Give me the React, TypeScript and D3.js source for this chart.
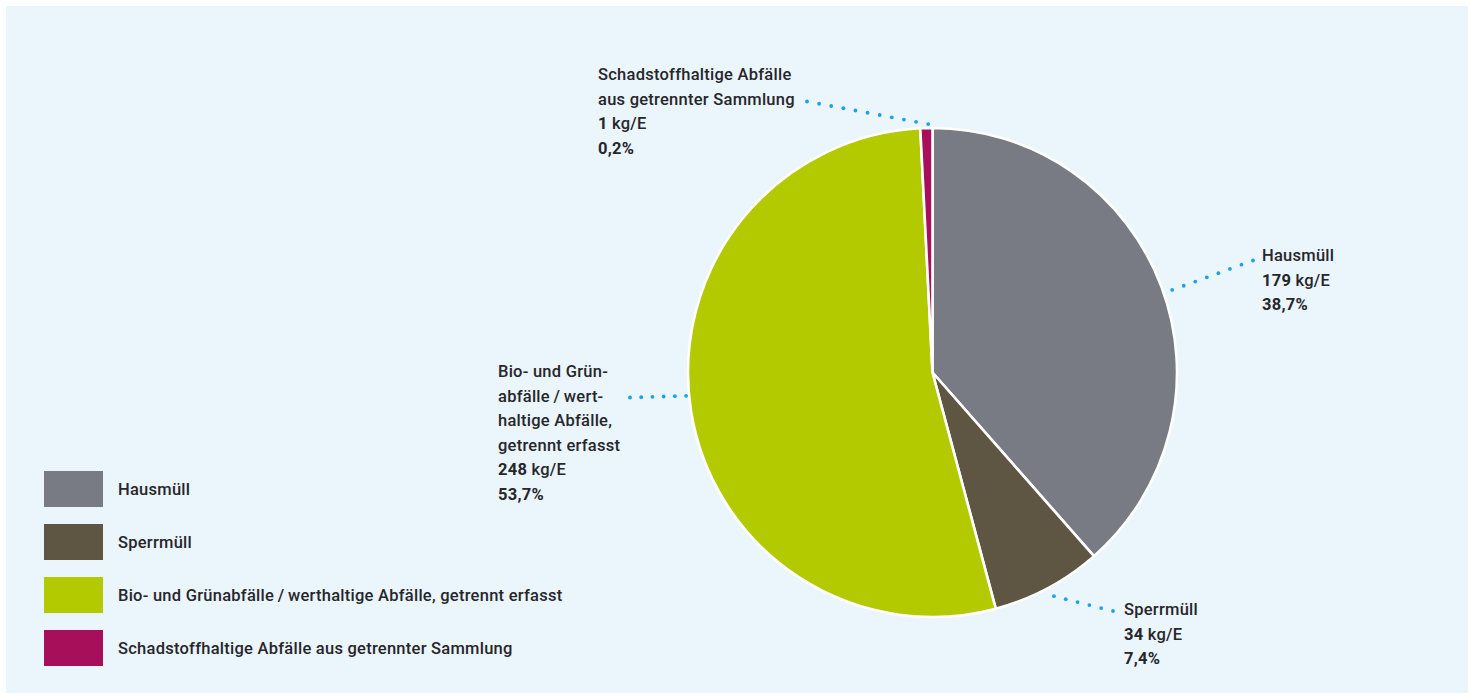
import React from "react";
import * as d3 from "d3";

const categories = [
  "Hausmüll",
  "Sperrmüll",
  "Bio- und Grünabfälle\u2009/\u2009werthaltige Abfälle, getrennt erfasst",
  "Schadstoffhaltige Abfälle aus getrennter Sammlung",
];
const valuesKg = [179, 34, 248, 1];
const percentLabels = ["38,7%", "7,4%", "53,7%", "0,2%"];
const labelNameLines = [
  ["Hausmüll"],
  ["Sperrmüll"],
  ["Bio- und Grün-", "abfälle\u2009/\u2009wert-", "haltige Abfälle,", "getrennt erfasst"],
  ["Schadstoffhaltige Abfälle", "aus getrennter Sammlung"],
];
const colors = ["#787b83", "#5e5543", "#b3c900", "#a80f5b"];

const W = 1470;
const H = 695;
const cx = 932.5;
const cy = 372.5;
const R = 244.5;
const FONT = "Roboto, 'Noto Sans', sans-serif";
const FS = 16.5;
const LS = 0.25;
const TEXT = "#26262b";
const DOT = "#1aa3e8";
const LINE_H = 24.5;
const MIN_SHARE = 0.008;

// label layout: x, first baseline, leader start angle (deg), leader start radius offset, leader end
const labelLayout = [
  { x: 1262, y: 261, ang: 71, off: 9, ex: 1253, ey: 260.5 },
  { x: 1124, y: 615, ang: 151.5, off: 10, ex: 1113, ey: 611 },
  { x: 498, y: 377, ang: 264.6, off: 3, ex: 630, ey: 397.5 },
  { x: 598, y: 80, ang: 359, off: 4, ex: 807, ey: 101.5 },
];

export default function App() {
  const total = d3.sum(valuesKg);
  const pie = d3
    .pie<number>()
    .sort(null)
    .value((d) => Math.max(d, total * MIN_SHARE));
  const arcs = pie(valuesKg);
  const arcGen = d3.arc<d3.PieArcDatum<number>>().innerRadius(0).outerRadius(R);

  return (
    <svg
      width={W}
      height={H}
      style={{ position: "absolute", left: 0, top: 0, display: "block" }}
    >
      <rect x={6} y={6} width={W - 8} height={H - 8} fill="#eaf5fc" />
      <g transform={`translate(${cx},${cy})`}>
        {arcs.map((a, i) => (
          <path
            key={i}
            d={arcGen(a) || ""}
            fill={colors[i]}
            stroke="#ffffff"
            strokeWidth={2.6}
            strokeLinejoin="miter"
          />
        ))}
      </g>
      {labelLayout.map((L, i) => {
        const t = (L.ang * Math.PI) / 180;
        const sx = cx + (R + L.off) * Math.sin(t);
        const sy = cy - (R + L.off) * Math.cos(t);
        const len = Math.hypot(L.ex - sx, L.ey - sy);
        const n = Math.max(1, Math.round(len / 12));
        const dots = d3.range(n + 1).map((k) => [sx + ((L.ex - sx) * k) / n, sy + ((L.ey - sy) * k) / n]);
        return (
          <g key={"l" + i}>
            {dots.map((p, k) => (
              <circle key={k} cx={p[0]} cy={p[1]} r={1.9} fill={DOT} />
            ))}
          </g>
        );
      })}
      {labelLayout.map((L, i) => {
        const names = labelNameLines[i];
        return (
          <text key={"t" + i} fontFamily={FONT} fontSize={FS} letterSpacing={LS} fill={TEXT}>
            {names.map((ln, k) => (
              <tspan key={k} x={L.x} y={L.y + k * LINE_H} fontWeight={500}>
                {ln}
              </tspan>
            ))}
            <tspan x={L.x} y={L.y + names.length * LINE_H} fontWeight={700}>
              {valuesKg[i]}
              <tspan fontWeight={500}>{" kg/E"}</tspan>
            </tspan>
            <tspan x={L.x} y={L.y + (names.length + 1) * LINE_H} fontWeight={700}>
              {percentLabels[i]}
            </tspan>
          </text>
        );
      })}
      {categories.map((c, i) => (
        <g key={"lg" + i}>
          <rect x={44} y={471 + i * 53} width={59} height={36} fill={colors[i]} />
          <text
            x={118}
            y={494.5 + i * 53}
            fontFamily={FONT}
            fontSize={FS}
            letterSpacing={LS}
            fontWeight={500}
            fill={TEXT}
          >
            {c}
          </text>
        </g>
      ))}
    </svg>
  );
}
